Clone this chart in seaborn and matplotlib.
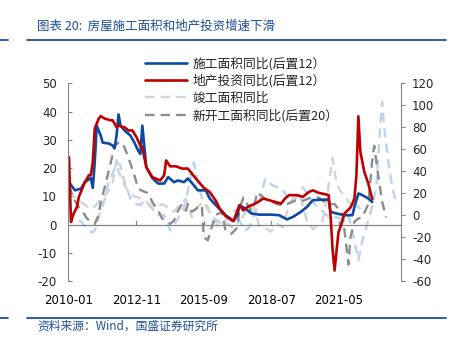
import matplotlib
matplotlib.use("Agg")
import matplotlib.pyplot as plt
from matplotlib.lines import Line2D
import seaborn as sns
import pandas as pd

# month offsets are counted from 2010-01
tick_pos = [0, 34, 68, 102, 136]
tick_labels = ["2010-01", "2012-11", "2015-09", "2018-07", "2021-05"]

# 施工面积同比 (lagged 12 months), left axis
constr_m = [0, 3, 6, 8, 11, 12, 13, 14, 16, 17, 20, 22, 23, 24, 25, 26, 28, 31, 33, 35, 36, 37,
            39, 42, 45, 48, 50, 53, 55, 58, 60, 63, 65, 69, 71, 75, 79, 83, 85, 86, 89, 92,
            96, 99, 102, 106, 110, 113, 117, 120, 123, 127, 131, 132, 135, 139, 143, 144,
            146, 148, 151, 153]
constr_v = [15, 12.1, 12.7, 15, 16.5, 13, 22, 35, 31.5, 29, 28.7, 28, 27, 31.5, 39, 35, 33.3,
            31.5, 29, 26, 25, 35, 20.3, 16.5, 14.5, 14.5, 16.8, 15, 15.6, 15, 16.3, 13.9,
            12.1, 12.1, 9.2, 6.2, 3.3, 1.3, 3.3, 6.8, 5.7, 3.9, 3.5, 3.5, 3.5, 3.3, 1.8,
            2.7, 4.5, 6.2, 8.6, 8.8, 8.8, 4.5, 3.9, 3.3, 3.3, 6.2, 11, 10.4, 9.2, 8]

# 地产投资同比 (lagged 12 months), left axis
invest_m = [0, 1, 2, 4, 5, 8, 10, 11, 12, 13, 15, 16, 18, 21, 22, 24, 25, 27, 28, 30, 32, 34,
            36, 37, 39, 42, 46, 48, 49, 51, 54, 57, 60, 62, 64, 68, 71, 74, 76, 79, 82, 83,
            85, 86, 88, 90, 94, 98, 101, 104, 107, 109, 111, 115, 118, 121, 123, 126, 130,
            131, 132, 133, 134, 135, 136, 137, 139, 142, 143, 144, 145, 146, 147, 149, 151,
            153]
invest_v = [23.9, 0.9, 3.3, 6.2, 9.8, 15, 17.4, 17.5, 22, 34, 37.5, 38.4, 37.5, 36.9, 36.9,
            34.5, 35.1, 34.5, 34.5, 33.3, 33.3, 31, 28, 27.4, 20.3, 16.8, 15.6, 17.4, 22.7,
            20.6, 20.6, 19.8, 19.8, 18, 16.3, 13, 11.5, 8.5, 5.7, 3.0, 1.5, 1.2, 5, 6.8, 5,
            6.2, 7.4, 9.2, 8.6, 8, 7.4, 9.2, 10.4, 10.4, 9.8, 11.5, 12.1, 11.2, 10.6, 10.4,
            2.7, -9, -16.3, -9.1, -2.6, -0.8, 3.9, 6, 7.4, 9.2, 17.4, 38.3, 25.7, 18.6,
            14.5, 9]

# 竣工面积同比, right axis
compl_m = [0, 3, 6, 9, 12, 14, 16, 18, 20, 22, 24, 25, 27, 29, 31, 33, 35, 38, 41, 44, 47,
           50, 53, 56, 59, 62, 65, 68, 70, 73, 75, 78, 81, 84, 87, 90, 93, 96, 99, 102, 105,
           108, 111, 114, 117, 120, 123, 126, 128, 130, 132, 133, 135, 137, 140, 143, 145,
           147]
compl_v = [22, 16, 12, 8, 6, 10, 15, 18, 22, 30, 50, 40, 30, 24, 20, 17, 16, 14, 9, 7, 10, 7,
           3, 10, 15, -2, 8, 12, 5, -2, -10, -8, 0, 5, -4, 6, 9, -10, -12, -15, -8, -11,
           10, 18, 15, -5, -13, -8, -5, 15, 40, 52, 28, 22, 15, 8, 10, 5]

# 竣工面积同比 (monthly), right axis, drawn without a legend entry
compl2_m = [0, 3, 6, 10, 12, 14, 15, 18, 20, 23, 24, 26, 27, 29, 31, 34, 36, 38, 40, 42, 44,
            48, 51, 53, 56, 58, 60, 63, 65, 67, 70, 72, 75, 78, 80, 83, 86, 89, 91, 94, 97,
            99, 102, 104, 107, 110, 113, 116, 118, 121, 124, 127, 130, 132, 135, 138, 141,
            143, 146, 148, 150, 152, 155, 157, 158, 159, 161, 163, 165]
compl2_v = [6, -2, -6, -14, -16, -11, -1, 14, 30, 42, 48, 45, 37, 25, 15, 10, 9, 13, 10, 6, 0,
            0, -14, -9, 0, 7, 22, 48, 28, 16, 7, -2, -5, -10, -8, -12, -5, -14, -11, 2, 18,
            33, 28, 26, 25, 17, 12, 20, 25, 18, 10, 5, 0, -3, -2, -4, 0, -15, -41, -23,
            -11, 1, 25, 80, 103, 80, 50, 26, 12]

# 新开工面积同比 (lagged 20 months), right axis
starts_m = [0, 2, 5, 7, 9, 11, 13, 15, 16, 18, 20, 22, 23, 25, 27, 29, 31, 33, 35, 37, 40,
            42, 45, 47, 51, 53, 55, 57, 59, 60, 62, 65, 67, 68, 70, 72, 74, 77, 79, 80, 82,
            85, 86, 88, 90, 92, 94, 95, 98, 101, 105, 107, 110, 114, 118, 122, 126, 128,
            131, 134, 138, 141, 142, 144, 146, 148, 151, 153, 154, 156, 158, 160]
starts_v = [27, 16, 7, 3, -3, -6, -8, 0, 12, 25, 40, 55, 63, 66, 66, 57, 47, 36, 24, 22, 20,
            12, 4, -3, -8, -5, 4, 10, 4, 10, 3, 7, 9, -20, -23, -11, 0, 3, -14, -16, -17,
            -11, 6, 16, 10, 4, 13, 21, 16, 13, 10, 9, 10, 13, 13, 16, 16, 13, 10, 10, 1,
            -45, -20, -6, -3, -2, 10, 50, 63, 36, 12, -2]

BLUE = "#0B4AA2"
RED = "#C00000"
DGRAY = "#8C8C8C"
LGRAY = "#D3D3D3"
LBLUE = "#BCD2EE"
AXIS = "#858585"
HEAD = "#1F4E9E"

sns.set_style("white")
plt.rcParams["font.family"] = ["DejaVu Sans", "Noto Sans CJK SC"]
plt.rcParams["axes.unicode_minus"] = False
CJK = ["Noto Sans CJK SC", "DejaVu Sans"]

fig = plt.figure(figsize=(4.52, 3.41), dpi=100)
ax = fig.add_axes([68 / 452, 1 - 281 / 341, (401 - 68) / 452, (281 - 83.3) / 341])
axr = ax.twinx()
ax.set_zorder(axr.get_zorder() + 1)
ax.patch.set_visible(False)

dash = (0, (4, 2.6))


def frame(m, v):
    return pd.DataFrame({"m": m, "v": v})


sns.lineplot(data=frame(compl2_m, compl2_v), x="m", y="v", ax=axr, color=LBLUE,
             lw=1.7, linestyle=dash, legend=False)
sns.lineplot(data=frame(compl_m, compl_v), x="m", y="v", ax=axr, color=LGRAY,
             lw=1.7, linestyle=dash, legend=False)
sns.lineplot(data=frame(starts_m, starts_v), x="m", y="v", ax=axr, color=DGRAY,
             lw=1.7, linestyle=dash, legend=False)
sns.lineplot(data=frame(constr_m, constr_v), x="m", y="v", ax=ax, color=BLUE,
             lw=1.9, legend=False)
sns.lineplot(data=frame(invest_m, invest_v), x="m", y="v", ax=ax, color=RED,
             lw=1.9, legend=False)

ax.axhline(0, color=AXIS, lw=0.9, zorder=1)

ax.set_xlim(-0.5, 167.5)
axr.set_xlim(-0.5, 167.5)
ax.set_ylim(-20, 50)
ax.set_yticks(range(-20, 51, 10))
axr.set_ylim(-60, 120)
axr.set_yticks(range(-60, 121, 20))
ax.set_xticks(tick_pos, tick_labels)
ax.set_xlabel("")
ax.set_ylabel("")
axr.set_ylabel("")

for a in (ax, axr):
    for s in a.spines.values():
        s.set_visible(False)
ax.spines["left"].set_visible(True)
ax.spines["left"].set_color(AXIS)
axr.spines["right"].set_visible(True)
axr.spines["right"].set_color(AXIS)

ax.tick_params(axis="x", length=0, pad=9, labelsize=8.5, colors="black")
ax.tick_params(axis="y", direction="in", length=3, color=AXIS, pad=8, labelsize=8.5)
axr.tick_params(axis="y", direction="out", length=3, color=AXIS, pad=5, labelsize=8.5)

# small tick marks on the zero line
for p in tick_pos[1:]:
    ax.plot([p, p], [0, 1.2], color=AXIS, lw=0.9, zorder=1)

handles = [
    Line2D([], [], color=BLUE, lw=1.9),
    Line2D([], [], color=RED, lw=1.9),
    Line2D([], [], color=LGRAY, lw=1.7, linestyle=dash),
    Line2D([], [], color=DGRAY, lw=1.7, linestyle=dash),
]
labels = ["施工面积同比(后置12）", "地产投资同比(后置12）", "竣工面积同比", "新开工面积同比(后置20）"]
fig.legend(handles, labels, loc="upper left", bbox_to_anchor=(145 / 452, 1 - 57 / 341),
           frameon=False, borderpad=0, borderaxespad=0, handlelength=3.3,
           handletextpad=0.4, labelspacing=0.3, prop={"family": CJK, "size": 9.2})

# header and footer rules with captions
for yy in (40, 318):
    fig.add_artist(Line2D([0, 8 / 452], [1 - yy / 341] * 2, color=HEAD, lw=1.3))
    fig.add_artist(Line2D([27 / 452, 446 / 452], [1 - yy / 341] * 2, color=HEAD, lw=1.3))
fig.text(37 / 452, 1 - 26 / 341, "图表 20:  房屋施工面积和地产投资增速下滑", color=HEAD,
         fontsize=9, va="center", ha="left", family=CJK)
fig.text(37 / 452, 1 - 326 / 341, "资料来源：Wind，国盛证券研究所", color=HEAD,
         fontsize=8.5, va="center", ha="left", family=CJK)

fig.savefig("out.png", dpi=100)
